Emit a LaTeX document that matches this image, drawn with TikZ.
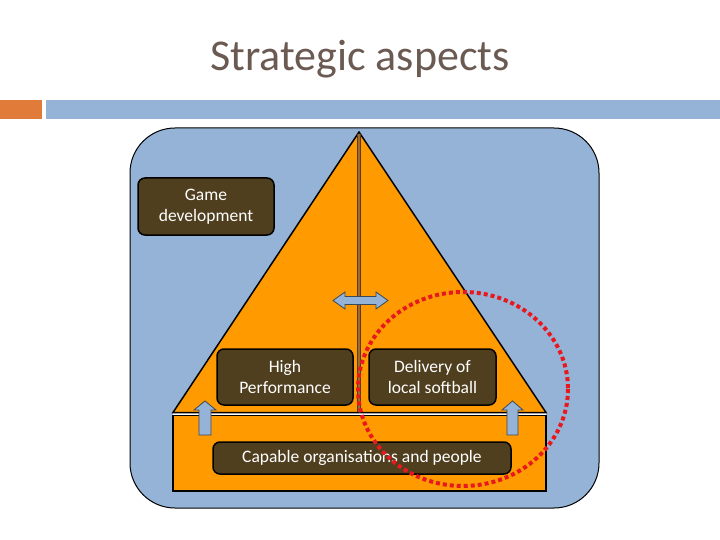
\documentclass[tikz,border=0pt]{standalone}
\usepackage{fontspec}
\setmainfont{Carlito}
\definecolor{bgblue}{HTML}{95B3D7}
\definecolor{accent}{HTML}{E07B39}
\definecolor{pyr}{HTML}{FF9A00}
\definecolor{boxbrown}{HTML}{4F3F1F}
\definecolor{pole}{HTML}{9B6A35}
\definecolor{poledark}{HTML}{5A3A1A}
\definecolor{titlecol}{HTML}{6A5A52}
\definecolor{ringred}{HTML}{E8191E}
\definecolor{arrline}{HTML}{3A4A5A}
\tikzset{
  box/.style={draw=black, line width=1.5pt, fill=boxbrown, rounded corners=7pt, text=white,
    align=center, inner sep=0pt, font=\fontsize{17.5}{21}\selectfont},
  blockarrow/.style={fill=bgblue, draw=arrline, line width=0.8pt, line join=miter},
  pyrshape/.style={fill=pyr, draw=black, line width=1.5pt}
}
\begin{document}
\begin{tikzpicture}[x=1pt,y=-1pt]
\useasboundingbox (0,0) rectangle (720,540);
% title
\node[text=titlecol, font=\fontsize{44}{52}\selectfont, anchor=base, inner sep=0pt] (title) at (360,71) {Strategic aspects};
% top bars
\fill[accent] (0,100) rectangle (42,119);
\fill[bgblue] (46,100) rectangle (720,119);
% background panel
\draw[fill=bgblue, line width=1pt, rounded corners=45pt] (130,128) rectangle (599,508);
% base block
\fill[white] (173,412) rectangle (546,416);
\draw[pyrshape] (173,415.5) rectangle (546,491);
% pyramid
\draw[pyrshape, line join=miter] (359,132) -- (546,412.5) -- (173,412.5) -- cycle;
% central pole
\draw[poledark, line width=4.5pt] (359,134) -- (359,412);
\draw[pole, line width=2pt] (359,134) -- (359,412);
% double arrow
\draw[blockarrow] (333,300.5) -- (345,292) -- (345,296.5) -- (376,296.5) -- (376,292) -- (388,300.5)
  -- (376,309) -- (376,304.5) -- (345,304.5) -- (345,309) -- cycle;
% up arrows
\draw[blockarrow] (199,435) -- (199,410) -- (194,410) -- (205,401) -- (216,410) -- (211,410) -- (211,435) -- cycle;
\draw[blockarrow] (507,435) -- (507,410) -- (502,410) -- (512.5,401) -- (523,410) -- (518,410) -- (518,435) -- cycle;
% boxes
\node[box, minimum width=136pt, minimum height=57pt] (game) at (206,206.5) {Game\\development};
\node[box, minimum width=136pt, minimum height=56pt] (high) at (285,377) {High\\Performance};
\node[box, minimum width=127pt, minimum height=56pt] (deliv) at (432.5,377) {Delivery of\\local softball};
\node[box, minimum width=298pt, minimum height=32pt] (capable) at (362,458) {Capable organisations and people};
% red dotted ring
\draw[ringred, line width=4pt, dash pattern=on 4pt off 3pt] (463,389) ellipse [x radius=105, y radius=97];
\end{tikzpicture}
\end{document}
